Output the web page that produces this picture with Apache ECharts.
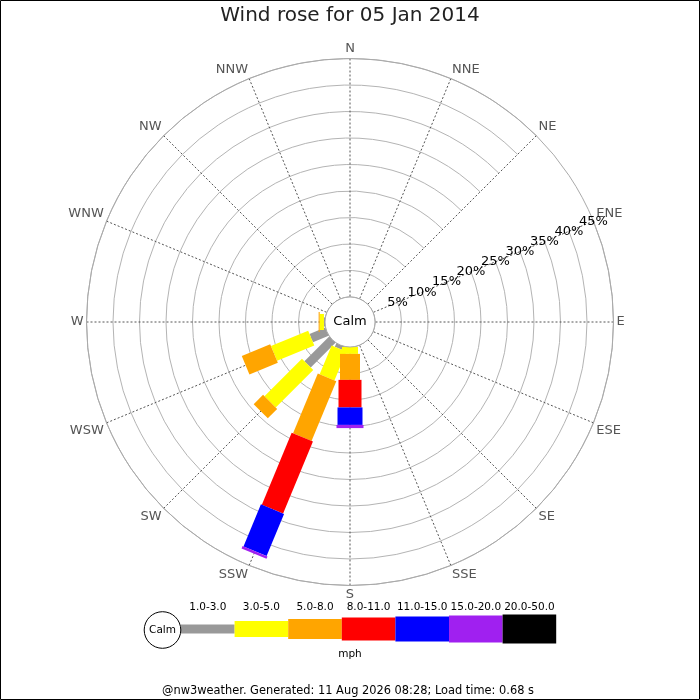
<!DOCTYPE html>
<html>
<head>
<meta charset="utf-8">
<title>Wind rose</title>
<script src="https://cdn.jsdelivr.net/npm/echarts@6/dist/echarts.min.js"></script>
<style>
  html, body { margin: 0; padding: 0; background: #fff; }
  #main { width: 700px; height: 700px; }
</style>
</head>
<body>
<div id="main"></div>
<script>
// compass points, clockwise from north
var directions = ['N', 'NNE', 'NE', 'ENE', 'E', 'ESE', 'SE', 'SSE', 'S', 'SSW', 'SW', 'WSW', 'W', 'WNW', 'NW', 'NNW'];
// speed classes (mph)
var speedBins = ['1.0-3.0', '3.0-5.0', '5.0-8.0', '8.0-11.0', '11.0-15.0', '15.0-20.0', '20.0-50.0'];
// radial ticks (% of time)
var radiusMax = 45;
var radiusStep = 5;
var ringLabels = [5, 10, 15, 20, 25, 30, 35, 40, 45];

// % of time per direction for each speed class (same order as directions)
var bin1 = [0, 0, 0, 0, 0, 0, 0, 0, 0, 0.7, 6.6, 3.2, 0.2, 0, 0, 0];
var bin2 = [0, 0, 0, 0, 0, 0, 0, 0, 1.3, 5.9, 10.0, 7.6, 0.8, 0, 0, 0];
var bin3 = [0, 0, 0, 0, 0, 0, 0, 0, 4.9, 12.2, 2.5, 5.8, 0.2, 0, 0, 0];
var bin4 = [0, 0, 0, 0, 0, 0, 0, 0, 5.2, 14.7, 0, 0, 0, 0, 0, 0];
var bin5 = [0, 0, 0, 0, 0, 0, 0, 0, 3.3, 8.6, 0, 0, 0, 0, 0, 0];
var bin6 = [0, 0, 0, 0, 0, 0, 0, 0, 0.6, 0.5, 0, 0, 0, 0, 0, 0];
var bin7 = [0, 0, 0, 0, 0, 0, 0, 0, 0, 0, 0, 0, 0, 0, 0, 0];
var bins = [bin1, bin2, bin3, bin4, bin5, bin6, bin7];

// styles
var binColors = ['#999999', '#ffff00', '#ffa500', '#ff0000', '#0000ff', '#a020f0', '#000000'];
var barWidths = [9, 16, 20, 23, 25, 27, 29];
var FONT = 'DejaVu Sans';
var CX = 350, CY = 322;

// angle axis starts at ENE so the % labels run along that spoke
var angleOrder = directions.slice(3).concat(directions.slice(0, 3));

// stacked segments [start, end, angleIndex] for each class
var cum = directions.map(function () { return 0; });
var segData = bins.map(function (bin) {
  var out = [];
  bin.forEach(function (v, i) {
    var start = cum[i];
    cum[i] += v;
    if (v > 0) out.push([start, cum[i], angleOrder.indexOf(directions[i])]);
  });
  return out;
});

// draw a straight (rectangular) bar segment along a spoke
function renderSegment(params, api) {
  var cs = params.coordSys;
  var hw = barWidths[params.seriesIndex] / 2;
  var p0 = api.coord([api.value(0), api.value(2)]);
  var p1 = api.coord([api.value(1), api.value(2)]);
  var dx = p0[0] - cs.cx, dy = p0[1] - cs.cy;
  var len = Math.sqrt(dx * dx + dy * dy);
  var nx = -dy / len * hw, ny = dx / len * hw;
  return {
    type: 'polygon',
    shape: {
      points: [
        [p0[0] + nx, p0[1] + ny], [p1[0] + nx, p1[1] + ny],
        [p1[0] - nx, p1[1] - ny], [p0[0] - nx, p0[1] - ny]
      ]
    },
    style: { fill: api.visual('color') }
  };
}

var series = speedBins.map(function (name, k) {
  return {
    type: 'custom',
    name: name,
    coordinateSystem: 'polar',
    color: binColors[k],
    encode: { radius: [0, 1], angle: 2 },
    renderItem: renderSegment,
    data: segData[k]
  };
});

// ring labels sit on the ENE spoke (angle index 0)
series.push({
  type: 'custom',
  coordinateSystem: 'polar',
  silent: true,
  encode: { radius: 0, angle: 1 },
  renderItem: function (params, api) {
    var p = api.coord([api.value(0), api.value(1)]);
    return {
      type: 'text',
      x: p[0],
      y: p[1],
      style: {
        text: api.value(0) + '%',
        fill: '#000',
        font: '13px ' + FONT,
        align: 'center',
        verticalAlign: 'middle'
      }
    };
  },
  data: ringLabels.map(function (r) { return [r, 0]; }),
  z: 5
});

// legend strip drawn under the rose
var legendX = 181, legendY = 629, segLen = 53.6;
var graphics = [
  { type: 'rect', shape: { x: 0.5, y: 0.5, width: 699, height: 699 }, style: { fill: 'none', stroke: '#000', lineWidth: 1 }, z: 100 },
  { type: 'circle', shape: { cx: CX, cy: CY, r: 25 }, style: { fill: '#fff', stroke: '#aaa', lineWidth: 1 }, z: 50 },
  { type: 'text', x: CX, y: CY, style: { text: 'Calm', fill: '#000', font: '13px ' + FONT, align: 'center', verticalAlign: 'middle' }, z: 51 },
  { type: 'circle', shape: { cx: 162.5, cy: legendY + 1, r: 18.3 }, style: { fill: '#fff', stroke: '#000', lineWidth: 1 }, z: 50 },
  { type: 'text', x: 162.5, y: legendY + 1, style: { text: 'Calm', fill: '#000', font: '10.5px ' + FONT, align: 'center', verticalAlign: 'middle' }, z: 51 },
  { type: 'text', x: 350, y: 654, style: { text: 'mph', fill: '#000', font: '10.5px ' + FONT, align: 'center', verticalAlign: 'middle' } },
  { type: 'text', x: 348, y: 691, style: { text: '@nw3weather. Generated: 11 Aug 2026 08:28; Load time: 0.68 s', fill: '#000', font: '11.4px ' + FONT, align: 'center', verticalAlign: 'middle' } }
];
speedBins.forEach(function (name, k) {
  var x = legendX + k * segLen;
  graphics.push({ type: 'rect', shape: { x: x, y: legendY - barWidths[k] / 2, width: segLen, height: barWidths[k] }, style: { fill: binColors[k] } });
  graphics.push({ type: 'text', x: x + segLen / 2, y: 607, style: { text: name, fill: '#000', font: '10.5px ' + FONT, align: 'center', verticalAlign: 'middle' } });
});

var chart = echarts.init(document.getElementById('main'));
var option = {
  animation: false,
  backgroundColor: '#fff',
  textStyle: { fontFamily: FONT },
  title: {
    text: 'Wind rose for 05 Jan 2014',
    left: 'center',
    top: 6,
    padding: 0,
    textStyle: { fontSize: 20, fontWeight: 'normal', color: '#222', fontFamily: FONT }
  },
  polar: { center: [CX, CY], radius: [25, 263.5] },
  angleAxis: {
    type: 'category',
    data: angleOrder,
    boundaryGap: false,
    startAngle: 22.5,
    clockwise: true,
    axisLine: { show: true, lineStyle: { color: '#aaa', width: 1 } },
    axisTick: { show: false },
    axisLabel: { color: '#555', fontSize: 13, margin: 3, fontFamily: FONT },
    splitLine: { show: true, lineStyle: { color: '#555', width: 1, type: [2, 2] } }
  },
  radiusAxis: {
    type: 'value',
    min: 0,
    max: radiusMax,
    interval: radiusStep,
    axisLine: { show: false },
    axisTick: { show: false },
    axisLabel: { show: false },
    splitLine: { show: true, lineStyle: { color: '#b4b4b4', width: 1 } }
  },
  graphic: graphics,
  series: series
};
chart.setOption(option);
</script>
</body>
</html>
